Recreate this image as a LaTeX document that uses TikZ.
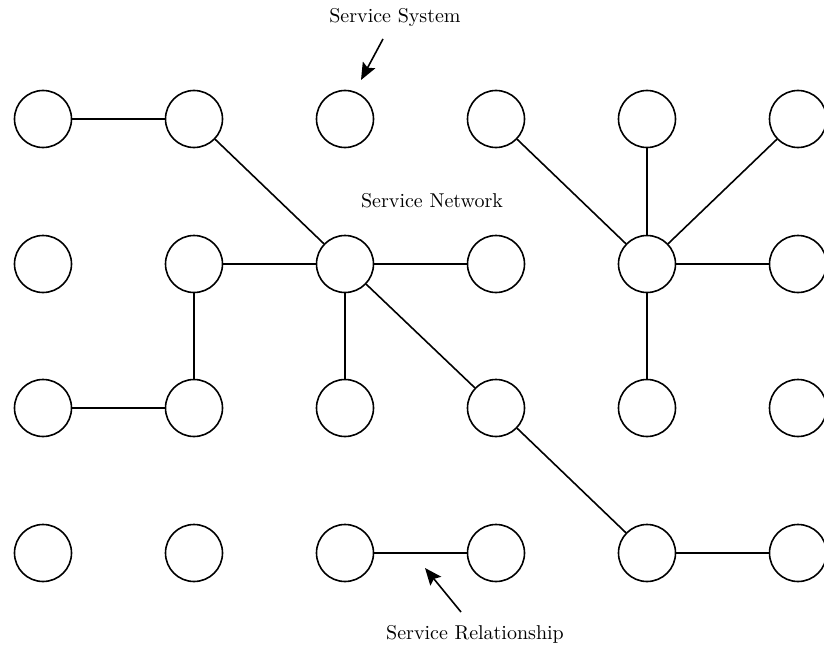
\documentclass[tikz,border=0pt]{standalone}
\usetikzlibrary{arrows.meta}

\begin{document}
\begin{tikzpicture}[x=0.5pt,y=-0.5pt]
\useasboundingbox (0,0) rectangle (824,647);

\begin{scope}[every node/.style={circle,draw,line width=0.8pt,minimum size=28.5pt,inner sep=0pt}]
    \node (11) at (43 ,119) {};
    \node (12) at (194,119) {};
    \node (13) at (345,119) {};
    \node (14) at (496,119) {};
    \node (15) at (647,119) {};
    \node (16) at (798,119) {};

    \node (21) at (43 ,264) {};
    \node (22) at (194,264) {};
    \node (23) at (345,264) {};
    \node (24) at (496,264) {};
    \node (25) at (647,264) {};
    \node (26) at (798,264) {};

    \node (31) at (43 ,408) {};
    \node (32) at (194,408) {};
    \node (33) at (345,408) {};
    \node (34) at (496,408) {};
    \node (35) at (647,408) {};
    \node (36) at (798,408) {};

    \node (41) at (43 ,553) {};
    \node (42) at (194,553) {};
    \node (43) at (345,553) {};
    \node (44) at (496,553) {};
    \node (45) at (647,553) {};
    \node (46) at (798,553) {};
\end{scope}

\begin{scope}[every node/.style={inner sep=1pt}]
    \node (sys) at (395,18)  {Service System};
    \node (net) at (432,201) {Service Network};
    \node (rel) at (475,634) {Service Relationship};
    \coordinate (sysa) at (383,39);
    \coordinate (sysb) at (361,80);
    \coordinate (rela) at (461,612);
    \coordinate (relb) at (425,568);
\end{scope}

\begin{scope}[>={Stealth[black,length=8.5pt,width=7pt,inset=1.5pt]},
              every edge/.style={draw,line width=0.8pt}]
    \path (11) edge (12);
    \path (12) edge (23);
    \path (22) edge (23);
    \path (23) edge (24);
    \path (23) edge (33);
    \path (23) edge (34);
    \path (34) edge (45);
    \path (45) edge (46);
    \path (22) edge (32);
    \path (31) edge (32);
    \path (43) edge (44);

    \path (14) edge (25);
    \path (15) edge (25);
    \path (16) edge (25);
    \path (25) edge (26);
    \path (25) edge (35);

    \path [->] (sysa) edge (sysb);
    \path [->] (rela) edge (relb);
\end{scope}
\end{tikzpicture}
\end{document}
